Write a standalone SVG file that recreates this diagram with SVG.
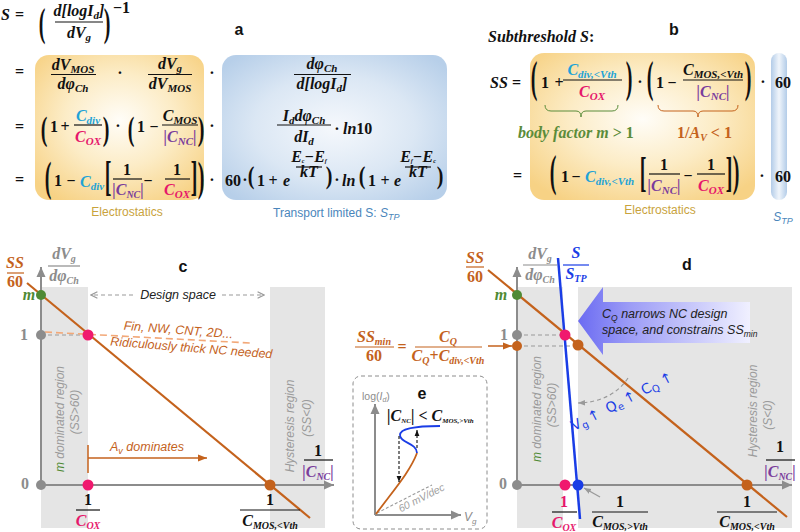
<svg xmlns="http://www.w3.org/2000/svg" width="800" height="532" viewBox="0 0 800 532">
<style>
.m{font-family:"Liberation Serif","DejaVu Serif",serif;font-weight:bold;font-style:italic;font-size:16px;fill:#111}
.u{font-style:normal}
.s{font-size:11px}
.ss{font-size:10px}
.p{font-family:"Liberation Serif","DejaVu Serif",serif;font-weight:bold;font-size:20px;fill:#111;text-anchor:middle}
.fl{stroke:#111;stroke-width:1.2}
.cy{fill:#1fa3d6}.pk{fill:#e6176b}.pu{fill:#7a3d9c}.or{fill:#c4621c}.gr{fill:#4f8a34}.gb{fill:#5b8c3a}.gy{fill:#8c8c8c}.bl{fill:#1a3de6}
.cap{font-family:"Liberation Sans",Arial,sans-serif;font-size:12px}
.lbl{font-family:"Liberation Sans",Arial,sans-serif;font-size:16px;font-weight:bold;fill:#111;text-anchor:middle}
.it{font-family:"Liberation Sans",Arial,sans-serif;font-style:italic;font-size:12.5px;fill:#222}
.ito{fill:#c4621c}
.rg{font-family:"Liberation Sans",Arial,sans-serif;font-style:italic;font-size:12px;fill:#9a9a9a;text-anchor:middle}
.axis{stroke:#8c8c8c;stroke-width:2;fill:none}
.ol{stroke:#c4621c;stroke-width:2.2;fill:none}
.blue{stroke:#1a3de6;stroke-width:2.5;fill:none}
.gd{stroke:#999;stroke-width:1.2;stroke-dasharray:4,3;fill:none}
.reg{fill:#e5e5e5}
.mid{text-anchor:middle}
</style>
<defs>
<radialGradient id="gOr" cx="0.5" cy="0.45" r="0.65">
<stop offset="0" stop-color="#fffdf8"/>
<stop offset="0.5" stop-color="#fcecc6"/>
<stop offset="1" stop-color="#f7d285"/>
</radialGradient>
<radialGradient id="gBl" cx="0.5" cy="0.5" r="0.65">
<stop offset="0" stop-color="#f5f8fc"/>
<stop offset="0.55" stop-color="#dbe7f4"/>
<stop offset="1" stop-color="#b7cfe9"/>
</radialGradient>
<linearGradient id="gBn" x1="0" x2="1" y1="0" y2="0">
<stop offset="0" stop-color="#b3cce8"/>
<stop offset="0.5" stop-color="#f0f5fb"/>
<stop offset="1" stop-color="#b3cce8"/>
</linearGradient>
<linearGradient id="gArr" gradientUnits="userSpaceOnUse" x1="578" y1="0" x2="750" y2="0">
<stop offset="0" stop-color="#6b6bf2"/>
<stop offset="0.3" stop-color="#9c9cf6"/>
<stop offset="1" stop-color="#f0f0ff"/>
</linearGradient>
<marker id="ahG" viewBox="0 0 10 10" refX="10" refY="5" markerWidth="10" markerHeight="10" markerUnits="userSpaceOnUse" orient="auto"><path d="M0,0.5 L10,5 L0,9.5 z" fill="#8c8c8c"/></marker>
<marker id="ahO" viewBox="0 0 10 10" refX="10" refY="5" markerWidth="10" markerHeight="9" markerUnits="userSpaceOnUse" orient="auto"><path d="M0,1 L10,5 L0,9 z" fill="#c4621c"/></marker>
<marker id="ahOpen" viewBox="0 0 10 10" refX="9" refY="5" markerWidth="8" markerHeight="8" markerUnits="userSpaceOnUse" orient="auto"><path d="M1,1 L9,5 L1,9" fill="none" stroke="#999" stroke-width="1.5"/></marker>
<marker id="ahS" viewBox="0 0 10 10" refX="10" refY="5" markerWidth="7" markerHeight="7" markerUnits="userSpaceOnUse" orient="auto"><path d="M0,1 L10,5 L0,9 z" fill="#999"/></marker>
<marker id="ahK" viewBox="0 0 10 10" refX="10" refY="5" markerWidth="6" markerHeight="6" markerUnits="userSpaceOnUse" orient="auto"><path d="M0,1 L10,5 L0,9 z" fill="#111"/></marker>
</defs>
<rect width="800" height="532" fill="#fff"/>

<g id="panel-a">
<rect x="35" y="55" width="169" height="145" rx="14" fill="url(#gOr)"/>
<rect x="222" y="55" width="225" height="145" rx="14" fill="url(#gBl)"/>
<text class="lbl" x="239" y="35">a</text>
<text class="m" x="1" y="20" font-size="17">S</text>
<text class="m u" x="15" y="20">=</text>
<text class="p" transform="translate(42,36) scale(1,2)">(</text>
<text class="m mid" x="79" y="16">d[logI<tspan class="s" dy="3">d</tspan><tspan dy="-3">]</tspan></text>
<line class="fl" x1="55" y1="22" x2="103" y2="22"/>
<text class="m mid" x="79" y="38">dV<tspan class="s" dy="3">g</tspan></text>
<text class="p" transform="translate(107,36) scale(1,2)">)</text>
<text class="m u" x="113" y="13" font-size="12">−1</text>

<text class="m u" x="15" y="77">=</text>
<text class="m mid" x="73" y="70">dV<tspan class="s" dy="3">MOS</tspan></text>
<line class="fl" x1="51" y1="74.5" x2="96" y2="74.5"/>
<text class="m mid" x="73" y="89">dφ<tspan class="s" dy="3">Ch</tspan></text>
<text class="m u mid" x="120" y="78">·</text>
<text class="m mid" x="170" y="69">dV<tspan class="s" dy="3">g</tspan></text>
<line class="fl" x1="148" y1="74.5" x2="192" y2="74.5"/>
<text class="m mid" x="170" y="89">dV<tspan class="s" dy="3">MOS</tspan></text>
<text class="m u mid" x="212" y="78">·</text>
<text class="m mid" x="322" y="69">dφ<tspan class="s" dy="3">Ch</tspan></text>
<line class="fl" x1="294" y1="74.5" x2="351" y2="74.5"/>
<text class="m mid" x="322" y="89">d[logI<tspan class="s" dy="3">d</tspan><tspan dy="-3">]</tspan></text>

<text class="m u" x="15" y="132">=</text>
<text class="p" transform="translate(44,140) scale(1,1.7)">(</text>
<text class="m u" x="50" y="132">1</text>
<text class="m u mid" x="65" y="132">+</text>
<text class="m cy mid" x="88" y="121">C<tspan class="s" dy="3">div</tspan></text>
<line class="fl" x1="74" y1="125" x2="102" y2="125"/>
<text class="m pk mid" x="88" y="142">C<tspan class="s" dy="3">OX</tspan></text>
<text class="p" transform="translate(106,140) scale(1,1.7)">)</text>
<text class="m u mid" x="118" y="131">·</text>
<text class="p" transform="translate(131,140) scale(1,1.7)">(</text>
<text class="m u" x="137" y="132">1</text>
<text class="m u mid" x="154" y="132">−</text>
<text class="m mid" x="180" y="121">C<tspan class="s" dy="3">MOS</tspan></text>
<line class="fl" x1="162" y1="125" x2="198" y2="125"/>
<text class="m pu mid" x="180" y="142">|C<tspan class="s" dy="3">NC</tspan><tspan dy="-3">|</tspan></text>
<text class="p" transform="translate(201,140) scale(1,1.7)">)</text>
<text class="m u mid" x="212" y="131">·</text>
<text class="m mid" x="304" y="121">I<tspan class="s" dy="3">d</tspan><tspan dy="-3">dφ</tspan><tspan class="s" dy="3">Ch</tspan></text>
<line class="fl" x1="277" y1="125" x2="331" y2="125"/>
<text class="m mid" x="304" y="142">dI<tspan class="s" dy="3">d</tspan></text>
<text class="m u mid" x="337" y="134">·</text>
<text class="m" x="343" y="134">ln<tspan class="u">10</tspan></text>

<text class="m u" x="15" y="185">=</text>
<text class="p" transform="translate(48,190.5) scale(1,2.11)">(</text>
<text class="m u" x="54" y="186">1</text>
<text class="m u mid" x="71" y="186">−</text>
<text class="m cy" x="80" y="187">C<tspan class="s" dy="3">div</tspan></text>
<text class="p" transform="translate(108,190) scale(1,2.1)">[</text>
<text class="m u mid" x="127" y="175">1</text>
<line class="fl" x1="113" y1="179" x2="142" y2="179"/>
<text class="m pu mid" x="128" y="195" font-size="15">|C<tspan class="ss" dy="3">NC</tspan><tspan dy="-3">|</tspan></text>
<text class="m u mid" x="148" y="186">−</text>
<text class="m u mid" x="177" y="175">1</text>
<line class="fl" x1="165" y1="179" x2="190" y2="179"/>
<text class="m pk mid" x="177" y="195">C<tspan class="s" dy="3">OX</tspan></text>
<text class="p" transform="translate(194,190) scale(1,2.1)">]</text>
<text class="p" transform="translate(201,190.5) scale(1,2.11)">)</text>
<text class="m u mid" x="212" y="185">·</text>
<text class="m u" x="225" y="186">60</text>
<text class="m u mid" x="245" y="185">·</text>
<text class="p" transform="translate(251,183.6) scale(1,1.23)">(</text>
<text class="m u" x="257" y="186">1</text>
<text class="m u mid" x="273" y="186">+</text>
<text class="m" x="283" y="186">e</text>
<text class="m mid" x="309" y="161.5" font-size="8">E<tspan font-size="6" dy="1.5">c</tspan><tspan dy="-1.5">−E</tspan><tspan font-size="6" dy="1.5">f</tspan></text>
<line class="fl" x1="296" y1="167" x2="322" y2="167" stroke-width="0.8"/>
<text class="m mid" x="309" y="177" font-size="8">kT</text>
<text class="p" transform="translate(329,183.6) scale(1,1.23)">)</text>
<text class="m u mid" x="337" y="185">·</text>
<text class="m" x="342" y="186">ln</text>
<text class="p" transform="translate(362,183.6) scale(1,1.23)">(</text>
<text class="m u" x="368" y="186">1</text>
<text class="m u mid" x="385" y="186">+</text>
<text class="m" x="394" y="186">e</text>
<text class="m mid" x="418" y="161.5" font-size="8">E<tspan font-size="6" dy="1.5">f</tspan><tspan dy="-1.5">−E</tspan><tspan font-size="6" dy="1.5">c</tspan></text>
<line class="fl" x1="405" y1="167" x2="431" y2="167" stroke-width="0.8"/>
<text class="m mid" x="418" y="177" font-size="8">kT</text>
<text class="p" transform="translate(440,183.6) scale(1,1.23)">)</text>

<text class="cap mid" x="127" y="216" fill="#c9a33c">Electrostatics</text>
<text class="cap" x="273" y="217" fill="#4a86bb">Transport limited S: <tspan font-style="italic">S</tspan><tspan font-style="italic" font-size="9" dy="3">TP</tspan></text>
</g>

<g id="panel-b">
<rect x="530" y="53" width="225" height="147" rx="14" fill="url(#gOr)"/>
<rect x="771" y="53" width="16" height="147" rx="8" fill="url(#gBn)"/>
<text class="lbl" x="674" y="35">b</text>
<text class="m" x="488" y="42">Subthreshold S<tspan class="u">:</tspan></text>
<text class="m" x="490" y="88">SS</text>
<text class="m u" x="512" y="88">=</text>
<text class="p" transform="translate(534,92.3) scale(1,2.17)">(</text>
<text class="m u" x="541" y="88">1</text>
<text class="m u mid" x="559" y="88">+</text>
<text class="m cy mid" x="592" y="75">C<tspan class="s" dy="3">div,&lt;Vth</tspan></text>
<line class="fl" x1="563" y1="80" x2="622" y2="80"/>
<text class="m pk mid" x="592" y="97">C<tspan class="s" dy="3">OX</tspan></text>
<text class="p" transform="translate(629,92.3) scale(1,2.17)">)</text>
<text class="m u mid" x="640" y="87">·</text>
<text class="p" transform="translate(650,92.3) scale(1,2.17)">(</text>
<text class="m u" x="656" y="88">1</text>
<text class="m u mid" x="672" y="88">−</text>
<text class="m mid" x="713" y="75">C<tspan class="s" dy="3">MOS,&lt;Vth</tspan></text>
<line class="fl" x1="683" y1="80" x2="743" y2="80"/>
<text class="m pu mid" x="713" y="97">|C<tspan class="s" dy="3">NC</tspan><tspan dy="-3">|</tspan></text>
<text class="p" transform="translate(748,92.3) scale(1,2.17)">)</text>
<text class="m u mid" x="763" y="87">·</text>
<text class="m u" x="775" y="88">60</text>
<path d="M545,105 Q545,111 551,111 L576,111 Q581,111 581,117 Q581,111 586,111 L612,111 Q618,111 618,105" fill="none" stroke="#5b8c3a" stroke-width="1"/>
<path d="M658,105 Q658,111 664,111 L693,111 Q698,111 698,117 Q698,111 703,111 L732,111 Q738,111 738,105" fill="none" stroke="#c4621c" stroke-width="1"/>
<text class="m gb" x="518" y="138" font-size="15">body factor m <tspan class="u">&gt; 1</tspan></text>
<text class="m or" x="677" y="138" font-size="15"><tspan class="u">1/</tspan>A<tspan class="ss" dy="3">V</tspan><tspan class="u" dy="-3"> &lt; 1</tspan></text>
<text class="m u" x="513" y="181">=</text>
<text class="p" transform="translate(553,186.3) scale(1,2.17)">(</text>
<text class="m u" x="561" y="182">1</text>
<text class="m u mid" x="576" y="182">−</text>
<text class="m cy" x="585" y="182">C<tspan class="s" dy="3">div,&lt;Vth</tspan></text>
<text class="p" transform="translate(643,186) scale(1,2.15)">[</text>
<text class="m u mid" x="664" y="170">1</text>
<line class="fl" x1="649" y1="174" x2="680" y2="174"/>
<text class="m pu mid" x="664" y="191">|C<tspan class="s" dy="3">NC</tspan><tspan dy="-3">|</tspan></text>
<text class="m u mid" x="688" y="181">−</text>
<text class="m u mid" x="711" y="170">1</text>
<line class="fl" x1="697" y1="174" x2="725" y2="174"/>
<text class="m pk mid" x="711" y="191">C<tspan class="s" dy="3">OX</tspan></text>
<text class="p" transform="translate(729,186) scale(1,2.15)">]</text>
<text class="p" transform="translate(736,186.3) scale(1,2.17)">)</text>
<text class="m u mid" x="762" y="181">·</text>
<text class="m u" x="775" y="182">60</text>
<text class="cap mid" x="660" y="214" fill="#c9a33c">Electrostatics</text>
<text class="cap mid" x="783" y="221" fill="#4a86bb" font-style="italic">S<tspan font-size="9" dy="3">TP</tspan></text>
</g>

<g id="panel-c">
<rect class="reg" x="41" y="287" width="47" height="241"/>
<rect class="reg" x="270" y="287" width="55" height="241"/>
<text class="rg" transform="translate(64,419) rotate(-90)"><tspan fill="#4f8a34">m</tspan> dominated region</text>
<text class="rg" transform="translate(79,412) rotate(-90)">(SS&gt;60)</text>
<text class="rg" transform="translate(294,426) rotate(-90)">Hysteresis region</text>
<text class="rg" transform="translate(311,418) rotate(-90)">(SS&lt;0)</text>
<line class="axis" x1="41" y1="485" x2="41" y2="267" marker-end="url(#ahG)"/>
<line class="axis" x1="41" y1="485" x2="334" y2="485" marker-end="url(#ahG)"/>
<line class="gd" x1="41" y1="335" x2="88" y2="335"/>
<line x1="45" y1="332" x2="250" y2="343" stroke="#f2a878" stroke-width="1.6" stroke-dasharray="7,4"/>
<line class="ol" x1="27" y1="283" x2="310" y2="518"/>
<text class="it mid" x="178" y="299">Design space</text>
<line class="gd" x1="133" y1="295" x2="91" y2="295" marker-end="url(#ahOpen)"/>
<line class="gd" x1="222" y1="295" x2="264" y2="295" marker-end="url(#ahOpen)"/>
<text class="it ito mid" transform="translate(178,334) rotate(4.4)">Fin, NW, CNT, 2D...</text>
<text class="it ito mid" transform="translate(191,352) rotate(4.5)">Ridiculously thick NC needed</text>
<line x1="88" y1="445" x2="88" y2="473" stroke="#c4621c" stroke-width="1.5"/>
<line x1="88" y1="458" x2="207" y2="458" stroke="#c4621c" stroke-width="1.5" marker-end="url(#ahO)"/>
<text class="it ito" x="110" y="451">A<tspan font-size="9" dy="3">v</tspan><tspan dy="-3"> dominates</tspan></text>
<circle cx="41" cy="295" r="5" fill="#4f8a34"/>
<circle cx="41" cy="335" r="5" fill="#8c8c8c"/>
<circle cx="41" cy="485" r="5" fill="#8c8c8c"/>
<circle cx="88" cy="335" r="5.5" fill="#f0196e"/>
<circle cx="88" cy="485" r="5.5" fill="#f0196e"/>
<circle cx="270" cy="485" r="5.5" fill="#c4621c"/>
<text class="m or mid" x="15" y="268" font-size="15">SS</text>
<line x1="7" y1="273" x2="24" y2="273" stroke="#c4621c" stroke-width="1.2"/>
<text class="m u or mid" x="15" y="287" font-size="15">60</text>
<text class="m gy mid" x="64" y="259" font-size="15">dV<tspan class="ss" dy="3">g</tspan></text>
<line x1="48" y1="266" x2="80" y2="266" stroke="#8c8c8c" stroke-width="1.2"/>
<text class="m gy mid" x="64" y="281" font-size="15">dφ<tspan class="ss" dy="3">Ch</tspan></text>
<text class="lbl" x="183" y="272">c</text>
<text class="m gr mid" x="29" y="300">m</text>
<text class="m u gy mid" x="24" y="340">1</text>
<text class="m u gy mid" x="25" y="489">0</text>
<text class="m u mid" x="318" y="456" font-size="15">1</text>
<line class="fl" x1="304" y1="460" x2="333" y2="460"/>
<text class="m pu mid" x="318" y="477" font-size="15">|C<tspan class="ss" dy="3">NC</tspan><tspan dy="-3">|</tspan></text>
<text class="m u mid" x="88" y="505" font-size="15">1</text>
<line class="fl" x1="76" y1="510" x2="100" y2="510"/>
<text class="m pk mid" x="88" y="526" font-size="15">C<tspan class="ss" dy="3">OX</tspan></text>
<text class="m u mid" x="270" y="505" font-size="15">1</text>
<line class="fl" x1="240" y1="510" x2="300" y2="510"/>
<text class="m mid" x="270" y="526" font-size="15">C<tspan class="ss" dy="3">MOS,&lt;Vth</tspan></text>
</g>

<g id="panel-e">
<rect x="353" y="376" width="134" height="153" rx="8" fill="#fff" stroke="#8c8c8c" stroke-width="1" stroke-dasharray="4,3"/>
<text class="lbl" x="422" y="399">e</text>
<text x="362" y="400" font-family="Liberation Sans, Arial, sans-serif" font-size="10.5" fill="#8c8c8c">log(<tspan font-style="italic">I</tspan><tspan font-style="italic" font-size="7" dy="2">d</tspan><tspan dy="-2">)</tspan></text>
<line class="axis" x1="375" y1="515" x2="375" y2="404" stroke-width="1.6" marker-end="url(#ahG)"/>
<line class="axis" x1="375" y1="515" x2="461" y2="515" stroke-width="1.6" marker-end="url(#ahG)"/>
<text x="464" y="521" font-family="Liberation Sans, Arial, sans-serif" font-style="italic" font-size="12" fill="#8c8c8c">V<tspan font-size="8" dy="3">g</tspan></text>
<text class="m" x="387" y="421" font-size="10.5">|C<tspan font-size="7" dy="2">NC</tspan><tspan dy="-2">| </tspan><tspan class="u">&lt;</tspan> C<tspan font-size="7" dy="2">MOS,&gt;Vth</tspan></text>
<line x1="377" y1="513" x2="432" y2="485" stroke="#999" stroke-width="1.1" stroke-dasharray="3,2"/>
<text transform="translate(423,501) rotate(-27)" text-anchor="middle" font-family="Liberation Sans, Arial, sans-serif" font-style="italic" font-size="10.5" fill="#a0a0a0">60 mV/dec</text>
<path d="M376,514 C392,492 410,472 417,453" fill="none" stroke="#c4621c" stroke-width="1.8"/>
<path d="M417,453 C417,443 400,443 400,435 C400,428 420,426 440,426" fill="none" stroke="#1a3de6" stroke-width="1.8"/>
<line x1="399" y1="436" x2="399" y2="482" stroke="#111" stroke-width="1.1" stroke-dasharray="3,2" marker-end="url(#ahK)"/>
<line x1="417" y1="448" x2="417" y2="430" stroke="#111" stroke-width="1.1" stroke-dasharray="3,2" marker-end="url(#ahK)"/>
</g>

<g id="panel-d">
<rect class="reg" x="517" y="287" width="46" height="241"/>
<rect class="reg" x="578" y="287" width="214" height="241"/>
<text class="rg" transform="translate(541,409) rotate(-90)"><tspan fill="#4f8a34">m</tspan> dominated region</text>
<text class="rg" transform="translate(556,405) rotate(-90)">(SS&gt;60)</text>
<text class="rg" transform="translate(757,411) rotate(-90)">Hysteresis region</text>
<text class="rg" transform="translate(772,415) rotate(-90)">(S&lt;0)</text>
<polygon points="578,321 603,287 603,302 750,302 750,343 603,343 603,355" fill="url(#gArr)"/>
<text class="it" x="602" y="318" font-size="12">C<tspan font-size="8.5" dy="3">Q</tspan><tspan dy="-3"> narrows NC design</tspan></text>
<text class="it" x="602" y="334" font-size="12">space, and constrains <tspan font-style="italic">SS</tspan><tspan font-size="8.5" dy="3">min</tspan></text>
<line class="axis" x1="517" y1="485" x2="517" y2="267" marker-end="url(#ahG)"/>
<line class="axis" x1="517" y1="485" x2="792" y2="485" marker-end="url(#ahG)"/>
<line class="gd" x1="517" y1="335" x2="565" y2="335"/>
<line class="gd" x1="517" y1="346" x2="578" y2="346"/>
<path d="M628,378 Q612,402 578,403" class="gd" marker-end="url(#ahS)"/>
<line x1="600" y1="497" x2="584" y2="488" stroke="#999" stroke-width="1.3" marker-end="url(#ahS)"/>
<line class="ol" x1="488" y1="270" x2="787" y2="517"/>
<line class="blue" x1="558" y1="258" x2="580" y2="519"/>
<text transform="translate(574,431) rotate(-27)" font-family="DejaVu Sans, Liberation Sans, sans-serif" font-size="14" fill="#1a3de6">V<tspan font-size="10" dy="3">g</tspan><tspan dy="-3" dx="3">↑</tspan><tspan dx="8">Q</tspan><tspan font-size="10" dy="3">e</tspan><tspan dy="-3" dx="3">↑</tspan><tspan dx="8">C</tspan><tspan font-size="10" dy="3">Q</tspan><tspan dy="-3" dx="4">↑</tspan></text>
<circle cx="517" cy="295" r="5" fill="#4f8a34"/>
<circle cx="517" cy="335" r="5" fill="#8c8c8c"/>
<circle cx="517" cy="346" r="5" fill="#c4621c"/>
<circle cx="517" cy="485" r="5" fill="#8c8c8c"/>
<circle cx="565" cy="335" r="5.5" fill="#f0196e"/>
<circle cx="578" cy="345" r="5.5" fill="#c4621c"/>
<circle cx="565" cy="485" r="5.5" fill="#f0196e"/>
<circle cx="578" cy="485" r="5.5" fill="#1a3de6"/>
<circle cx="747" cy="485" r="5.5" fill="#c4621c"/>
<text class="m or mid" x="475" y="263" font-size="15">SS</text>
<line x1="466" y1="267" x2="484" y2="267" stroke="#c4621c" stroke-width="1.2"/>
<text class="m u or mid" x="475" y="282" font-size="15">60</text>
<text class="m gy mid" x="540" y="259" font-size="15">dV<tspan class="ss" dy="3">g</tspan></text>
<line x1="523" y1="265" x2="557" y2="265" stroke="#8c8c8c" stroke-width="1.2"/>
<text class="m gy mid" x="540" y="280" font-size="15">dφ<tspan class="ss" dy="3">Ch</tspan></text>
<text class="m bl mid" x="576" y="258" font-size="15">S</text>
<line x1="563" y1="265" x2="589" y2="265" stroke="#1a3de6" stroke-width="1.2"/>
<text class="m bl mid" x="576" y="279" font-size="15">S<tspan class="ss" dy="3">TP</tspan></text>
<text class="lbl" x="687" y="270">d</text>
<text class="m gr mid" x="501" y="300">m</text>
<text class="m u gy mid" x="504" y="340">1</text>
<text class="m u gy mid" x="503" y="489">0</text>
<text class="m or mid" x="374" y="342" font-size="15">SS<tspan class="ss" dy="3">min</tspan></text>
<line x1="355" y1="347" x2="394" y2="347" stroke="#c4621c" stroke-width="1.2"/>
<text class="m u or mid" x="374" y="361" font-size="15">60</text>
<text class="m u or mid" x="402" y="352" font-size="15">=</text>
<text class="m or mid" x="448" y="342" font-size="15">C<tspan class="ss" dy="3">Q</tspan></text>
<line x1="415" y1="347" x2="482" y2="347" stroke="#c4621c" stroke-width="1.2"/>
<text class="m or mid" x="448" y="361" font-size="15">C<tspan class="ss" dy="3">Q</tspan><tspan class="u" dy="-3">+</tspan>C<tspan class="ss" dy="3">div,&lt;Vth</tspan></text>
<line x1="488" y1="346" x2="512" y2="346" stroke="#c4621c" stroke-width="1.5" marker-end="url(#ahO)"/>
<text class="m u mid" x="780" y="452" font-size="15">1</text>
<line class="fl" x1="766" y1="460" x2="795" y2="460"/>
<text class="m pu mid" x="780" y="477" font-size="15">|C<tspan class="ss" dy="3">NC</tspan><tspan dy="-3">|</tspan></text>
<text class="m u pk mid" x="564" y="507" font-size="15">1</text>
<line class="fl" x1="552" y1="512" x2="577" y2="512"/>
<text class="m pk mid" x="564" y="528" font-size="15">C<tspan class="ss" dy="3">OX</tspan></text>
<text class="m u mid" x="620" y="507" font-size="15">1</text>
<line class="fl" x1="592" y1="512" x2="648" y2="512"/>
<text class="m mid" x="620" y="527" font-size="15">C<tspan class="ss" dy="3">MOS,&gt;Vth</tspan></text>
<text class="m u mid" x="747" y="507" font-size="15">1</text>
<line class="fl" x1="717" y1="512" x2="777" y2="512"/>
<text class="m mid" x="747" y="527" font-size="15">C<tspan class="ss" dy="3">MOS,&lt;Vth</tspan></text>
</g>
</svg>
